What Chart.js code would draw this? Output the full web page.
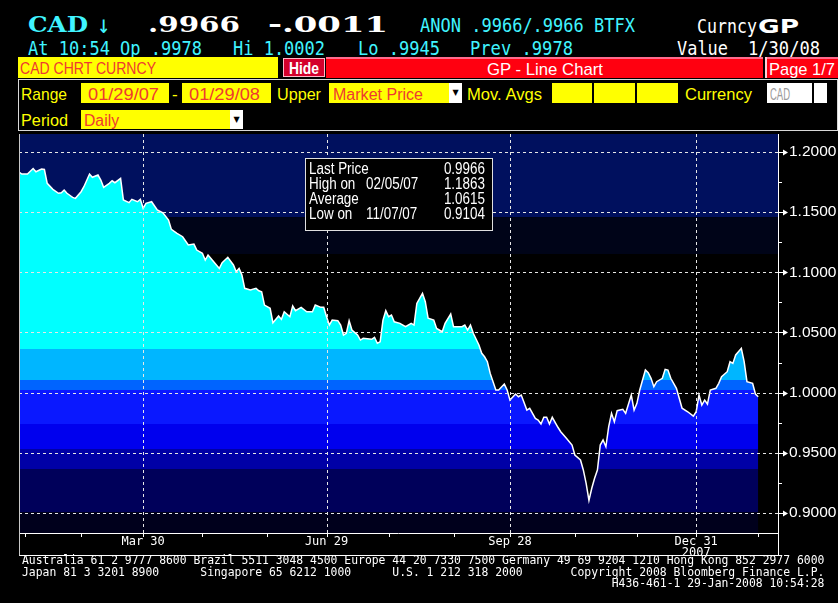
<!DOCTYPE html>
<html lang="en">
<head>
<meta charset="UTF-8">
<title>CAD Curncy GP - Line Chart</title>
<script src="https://cdn.jsdelivr.net/npm/chart.js"></script>
<style>
  html, body { margin: 0; padding: 0; background: #000; }
  body { position: relative; width: 838px; height: 603px; overflow: hidden; }
  .t { position: absolute; white-space: pre; line-height: 1; transform-origin: 0 0; }
  .big { font: bold 22px "DejaVu Serif", serif; }
  .mono { font: 19px "DejaVu Sans Mono", monospace; }
  .sans { font: 17px "Liberation Sans", "DejaVu Sans", sans-serif; }
  .narrow { font: 16px "Liberation Sans", "DejaVu Sans", sans-serif; }
  .cyan { color: #40f4ff; }
  .white { color: #fff; }
  .yellow { color: #ffff00; }
  .red { color: #ee3a30; }
  .box { position: absolute; box-sizing: border-box; }
  .yfield { background: #ffff00; }
  .arrow { background: #fff; color: #000; font: 8px "DejaVu Sans", sans-serif; text-align: center; }
  #chartWrap { position: absolute; left: 0; top: 132px; width: 838px; height: 424px; }
  #chart { display: block; }
  #footer { position: absolute; left: 22px; top: 555px; margin: 0; font: 11.4px "DejaVu Sans Mono", monospace; line-height: 11.5px; color: #fff; }
</style>
</head>
<body>
  <!-- row 1 -->
  <div class="t big cyan" style="left:28px;top:11px" data-w="60">CAD</div>
  <div class="t cyan" style="left:97px;top:10px;font:25px 'DejaVu Sans Mono',monospace" data-w="13">↓</div>
  <div class="t big white" style="left:148px;top:11px" data-w="92">.9966</div>
  <div class="t big white" style="left:268px;top:11px" data-w="120">-.0011</div>
  <div class="t mono cyan" style="left:420px;top:14px" data-w="215">ANON .9966/.9966 BTFX</div>
  <div class="t mono white" style="left:697px;top:15px" data-w="60">Curncy</div>
  <div class="t white" style="left:758px;top:14px;font:bold 20px 'DejaVu Sans',sans-serif" data-w="41">GP</div>

  <!-- row 2 -->
  <div class="t mono cyan" style="left:28px;top:37px" data-w="174">At 10:54 Op .9978</div>
  <div class="t mono cyan" style="left:233px;top:37px" data-w="92">Hi 1.0002</div>
  <div class="t mono cyan" style="left:358px;top:37px" data-w="82">Lo .9945</div>
  <div class="t mono cyan" style="left:470px;top:37px" data-w="103">Prev .9978</div>
  <div class="t mono white" style="left:677px;top:37px" data-w="51">Value</div>
  <div class="t mono white" style="left:748px;top:37px" data-w="72">1/30/08</div>

  <!-- row 3 -->
  <div class="box yfield" style="left:18px;top:57px;width:260px;height:21px"></div>
  <div class="t narrow red" style="left:20px;top:60px" data-w="136">CAD CHRT CURNCY</div>
  <div class="box" style="left:283px;top:58px;width:42px;height:19px;background:#d4002c;border:1px solid #ffb8c8"></div>
  <div class="t white" style="left:289px;top:60px;font:bold 16px 'Liberation Sans',sans-serif" data-w="30">Hide</div>
  <div class="box" style="left:326px;top:57px;width:437px;height:21px;background:linear-gradient(#ff6a8c 0 2px,#ff0010 2px)"></div>
  <div class="t sans white" style="left:487px;top:60px" data-w="116">GP - Line Chart</div>
  <div class="box" style="left:765px;top:57px;width:73px;height:21px;background:linear-gradient(#ff6a8c 0 2px,#ff0010 2px);border-left:2px solid #ffd0d8"></div>
  <div class="t sans white" style="left:769px;top:60px" data-w="66">Page 1/7</div>

  <!-- rows 4 and 5 -->
  <div class="box" style="left:18px;top:79px;width:820px;height:52px;border:1px solid #d8d8d8"></div>
  <div class="t sans yellow" style="left:21px;top:85px" data-w="46">Range</div>
  <div class="box yfield" style="left:81px;top:83px;width:88px;height:20px"></div>
  <div class="t narrow red" style="left:88px;top:86px" data-w="71">01/29/07</div>
  <div class="t sans yellow" style="left:172px;top:85px">-</div>
  <div class="box yfield" style="left:182px;top:83px;width:89px;height:20px"></div>
  <div class="t narrow red" style="left:189px;top:86px" data-w="71">01/29/08</div>
  <div class="t sans yellow" style="left:277px;top:85px" data-w="44">Upper</div>
  <div class="box yfield" style="left:329px;top:83px;width:120px;height:20px"></div>
  <div class="t narrow red" style="left:333px;top:86px" data-w="90">Market Price</div>
  <div class="box arrow" style="left:449px;top:83px;width:13px;height:20px;line-height:20px">▼</div>
  <div class="t sans yellow" style="left:467px;top:85px" data-w="75">Mov. Avgs</div>
  <div class="box yfield" style="left:552px;top:83px;width:40px;height:20px"></div>
  <div class="box yfield" style="left:594px;top:83px;width:41px;height:20px"></div>
  <div class="box yfield" style="left:637px;top:83px;width:41px;height:20px"></div>
  <div class="t sans yellow" style="left:685px;top:85px" data-w="67">Currency</div>
  <div class="box" style="left:767px;top:83px;width:45px;height:20px;background:#fff"></div>
  <div class="t narrow" style="left:770px;top:86px;color:#9a9a9a" data-w="20">CAD</div>
  <div class="box" style="left:814px;top:83px;width:13px;height:20px;background:#fff"></div>

  <div class="t sans yellow" style="left:21px;top:111px" data-w="47">Period</div>
  <div class="box yfield" style="left:81px;top:110px;width:149px;height:19px"></div>
  <div class="t narrow red" style="left:84px;top:112px" data-w="35">Daily</div>
  <div class="box arrow" style="left:230px;top:110px;width:13px;height:19px;line-height:19px">▼</div>

  <div id="chartWrap"><canvas id="chart" width="838" height="424"></canvas></div>

<pre id="footer">Australia 61 2 9777 8600 Brazil 5511 3048 4500 Europe 44 20 7330 7500 Germany 49 69 9204 1210 Hong Kong 852 2977 6000
Japan 81 3 3201 8900      Singapore 65 6212 1000      U.S. 1 212 318 2000       Copyright 2008 Bloomberg Finance L.P.
                                                                                      H436-461-1 29-Jan-2008 10:54:28</pre>

<script>
// CAD per USD, daily, 29 Jan 2007 - 29 Jan 2008 (x = weekday number from 29 Jan 2007)
const dayIndex = [
    0, 1, 3, 5, 6, 8, 9, 10, 12, 14, 15, 16, 17, 19, 20, 22, 23, 25, 26, 28,
    29, 30, 32, 33, 34, 36, 37, 39, 40, 42, 43, 44, 45, 47, 49, 51, 53, 54, 56, 58,
    60, 62, 63, 65, 66, 67, 69, 71, 72, 74, 76, 77, 78, 79, 80, 82, 84, 85, 86, 87,
    89, 90, 92, 93, 94, 96, 97, 98, 100, 102, 104, 105, 107, 108, 109, 110, 111, 113, 114, 115,
    116, 117, 118, 120, 121, 122, 125, 126, 127, 128, 129, 130, 131, 132, 133, 135, 137, 139, 140, 141,
    143, 144, 145, 147, 148, 150, 151, 153, 154, 157, 158, 159, 160, 161, 163, 164, 165, 166, 167, 169,
    170, 172, 173, 174, 176, 177, 178, 180, 181, 183, 184, 185, 186, 187, 188, 189, 191, 192, 194, 196,
    197, 199, 200, 201, 202, 203, 204, 205, 206, 207, 208, 209, 210, 211, 212, 214, 215, 217, 218, 219,
    220, 222, 223, 224, 225, 226, 228, 229, 230, 231, 233, 234, 235, 237, 239, 240, 241, 242, 243, 244,
    245, 247, 248, 249, 251, 252, 253, 254, 256, 257, 258, 260, 261, 262
];
const closeRate = [
    1.1834, 1.1817, 1.1817, 1.1863, 1.1836, 1.1858, 1.1855, 1.1740, 1.1690, 1.1657, 1.1662, 1.1684, 1.1657, 1.1623, 1.1615, 1.1670, 1.1712, 1.1817, 1.1790, 1.1809,
    1.1767, 1.1707, 1.1740, 1.1761, 1.1745, 1.1781, 1.1601, 1.1579, 1.1607, 1.1587, 1.1607, 1.1532, 1.1574, 1.1587, 1.1518, 1.1495, 1.1435, 1.1357, 1.1324, 1.1296,
    1.1227, 1.1235, 1.1185, 1.1158, 1.1102, 1.1144, 1.1088, 1.1033, 1.1080, 1.1125, 1.1061, 1.1005, 1.1033, 1.0978, 1.0867, 1.0853, 1.0867, 1.0847, 1.0839, 1.0728,
    1.0701, 1.0581, 1.0637, 1.0609, 1.0672, 1.0631, 1.0720, 1.0681, 1.0709, 1.0672, 1.0672, 1.0728, 1.0709, 1.0709, 1.0631, 1.0562, 1.0603, 1.0598, 1.0562, 1.0479,
    1.0493, 1.0598, 1.0520, 1.0479, 1.0437, 1.0451, 1.0443, 1.0460, 1.0410, 1.0423, 1.0603, 1.0681, 1.0631, 1.0645, 1.0589, 1.0576, 1.0548, 1.0576, 1.0562, 1.0742,
    1.0825, 1.0756, 1.0618, 1.0603, 1.0534, 1.0506, 1.0576, 1.0653, 1.0548, 1.0548, 1.0562, 1.0520, 1.0562, 1.0493, 1.0396, 1.0327, 1.0298, 1.0257, 1.0160, 1.0022,
    1.0022, 1.0071, 1.0022, 0.9938, 0.9988, 0.9966, 0.9980, 0.9855, 0.9869, 0.9786, 0.9772, 0.9739, 0.9795, 0.9795, 0.9739, 0.9795, 0.9712, 0.9675, 0.9620, 0.9564,
    0.9481, 0.9440, 0.9357, 0.9246, 0.9104, 0.9205, 0.9288, 0.9357, 0.9564, 0.9606, 0.9550, 0.9717, 0.9828, 0.9758, 0.9850, 0.9861, 0.9828, 0.9980, 0.9855, 0.9911,
    1.0022, 1.0188, 1.0165, 1.0119, 1.0049, 1.0091, 1.0119, 1.0194, 1.0188, 1.0119, 1.0036, 0.9953, 0.9870, 0.9841, 0.9805, 0.9841, 0.9980, 0.9897, 0.9938, 0.9905,
    1.0022, 1.0036, 1.0077, 1.0132, 1.0174, 1.0257, 1.0243, 1.0313, 1.0368, 1.0257, 1.0091, 1.0077, 0.9988, 0.9966
];

const yTicks = [0.90, 0.95, 1.00, 1.05, 1.10, 1.15, 1.20];
const yMinorTicks = [0.925, 0.975, 1.025, 1.075, 1.125, 1.175];
const quarterDays = [44, 109, 174, 240];
const quarterLabels = [['Mar 30'], ['Jun 29'], ['Sep 28'], ['Dec 31', '2007']];
const monthEndDays = [2, 22, 44, 65, 88, 109, 131, 154, 174, 197, 219, 240, 262];

const statLabels = ['Last Price', 'High on', 'Average', 'Low on'];
const statDates = ['', '02/05/07', '', '11/07/07'];
const statValues = [0.9966, 1.1863, 1.0615, 0.9104];

// colour bands (by price level) for the area fill and for the empty background
const fillEdges = [1.0362, 1.0105, 1.0022, 0.9739, 0.9529, 0.9366, 0.9010];
const fillColors = ['#00ffff', '#00b6ff', '#0064ff', '#0a18ff', '#0000ee', '#0000a6', '#00005a', '#00001c'];
const bgEdges = [1.1459, 1.1152];
const bgColors = ['#00105e', '#000418', '#000000'];

// fit header texts to their measured widths
document.querySelectorAll('[data-w]').forEach(el => {
    const w = parseFloat(el.dataset.w);
    el.style.transform = 'scaleX(' + (w / el.getBoundingClientRect().width) + ')';
});

function bandFill(context) {
    const chart = context.chart;
    const a = chart.chartArea;
    if (!a) return fillColors[0];
    const y = chart.scales.y;
    const h = a.bottom - a.top;
    const g = chart.ctx.createLinearGradient(0, a.top, 0, a.bottom);
    g.addColorStop(0, fillColors[0]);
    fillEdges.forEach((v, i) => {
        const p = Math.min(1, Math.max(0, (y.getPixelForValue(v) - a.top) / h));
        g.addColorStop(p, fillColors[i]);
        g.addColorStop(p, fillColors[i + 1]);
    });
    g.addColorStop(1, fillColors[fillColors.length - 1]);
    return g;
}

const backdrop = {
    id: 'backdrop',
    beforeDatasetsDraw(chart) {
        const { ctx, chartArea: a, scales: { y } } = chart;
        ctx.save();
        let top = a.top;
        bgColors.forEach((c, i) => {
            const bottom = i < bgEdges.length ? y.getPixelForValue(bgEdges[i]) : a.bottom;
            ctx.fillStyle = c;
            ctx.fillRect(a.left, top, a.right - a.left, bottom - top);
            top = bottom;
        });
        ctx.restore();
    }
};

function line(ctx, x1, y1, x2, y2) {
    ctx.beginPath();
    ctx.moveTo(x1, y1);
    ctx.lineTo(x2, y2);
    ctx.stroke();
}

const overlay = {
    id: 'overlay',
    afterDatasetsDraw(chart) {
        const { ctx, chartArea: a, scales: { x, y } } = chart;
        const axisBottom = a.bottom + 22.5;
        ctx.save();
        ctx.lineWidth = 1;

        // dotted grid over the fill
        ctx.strokeStyle = '#e6e6e6';
        ctx.setLineDash([3, 3]);
        yTicks.forEach(v => {
            const py = Math.round(y.getPixelForValue(v)) + 0.5;
            line(ctx, a.left, py, a.right, py);
        });
        quarterDays.forEach(d => {
            const px = Math.round(x.getPixelForValue(d)) + 0.5;
            line(ctx, px, a.top, px, a.bottom);
        });
        ctx.setLineDash([]);

        // frame and date axis box
        ctx.strokeStyle = '#ffffff';
        line(ctx, a.left, a.bottom + 0.5, a.right, a.bottom + 0.5);
        line(ctx, a.left, axisBottom, a.right, axisBottom);
        line(ctx, a.right + 0.5, a.top, a.right + 0.5, axisBottom);
        ctx.strokeStyle = '#c8c8c8';
        line(ctx, a.left + 0.5, a.top, a.left + 0.5, axisBottom);

        // month ticks
        ctx.strokeStyle = '#ffffff';
        monthEndDays.forEach(d => {
            const px = Math.round(x.getPixelForValue(d)) + 0.5;
            line(ctx, px, a.bottom, px, a.bottom + 4);
        });

        // price ticks on the right
        yMinorTicks.forEach(v => {
            const py = Math.round(y.getPixelForValue(v)) + 0.5;
            line(ctx, a.right, py, a.right + 4, py);
        });
        ctx.fillStyle = '#ffffff';
        yTicks.forEach(v => {
            const py = Math.round(y.getPixelForValue(v)) + 0.5;
            line(ctx, a.right, py, a.right + 7, py);
            ctx.beginPath();
            ctx.moveTo(a.right + 5, py - 3);
            ctx.lineTo(a.right + 10, py);
            ctx.lineTo(a.right + 5, py + 3);
            ctx.closePath();
            ctx.fill();
        });

        // statistics box
        const bx = 305, by = 26;
        ctx.fillStyle = '#000000';
        ctx.fillRect(bx, by, 187, 72);
        ctx.strokeStyle = '#e0e0e0';
        ctx.strokeRect(bx + 0.5, by + 0.5, 187, 72);
        ctx.fillStyle = '#ffffff';
        ctx.font = '16px "Liberation Sans", "DejaVu Sans", sans-serif';
        ctx.textBaseline = 'alphabetic';
        const sx = 0.84;
        statLabels.forEach((lab, i) => {
            const ty = by + 15.5 + i * 15;
            ctx.save();
            ctx.translate(bx + 4, ty);
            ctx.scale(sx, 1);
            ctx.textAlign = 'left';
            ctx.fillText(lab, 0, 0);
            if (statDates[i]) ctx.fillText(statDates[i], 57 / sx, 0);
            ctx.textAlign = 'right';
            ctx.fillText(statValues[i].toFixed(4), 176 / sx, 0);
            ctx.restore();
        });
        ctx.restore();
    }
};

const points = dayIndex.map((d, i) => ({ x: d, y: closeRate[i] }));

new Chart(document.getElementById('chart').getContext('2d'), {
    type: 'line',
    data: {
        datasets: [{
            label: 'CAD Curncy',
            data: points,
            borderColor: '#ffffff',
            borderWidth: 1.5,
            pointRadius: 0,
            tension: 0,
            fill: 'start',
            backgroundColor: bandFill
        }]
    },
    options: {
        responsive: false,
        animation: false,
        devicePixelRatio: 1,
        layout: { padding: { left: 19, top: 2, right: 0, bottom: 0 } },
        plugins: { legend: { display: false }, tooltip: { enabled: false } },
        scales: {
            x: {
                type: 'linear',
                min: 0,
                max: 269,
                afterBuildTicks: s => { s.ticks = quarterDays.map(v => ({ value: v })); },
                afterFit: s => { s.height = 23; s.paddingLeft = 0; s.paddingRight = 0; },
                grid: { display: false, drawTicks: false },
                border: { display: false },
                ticks: {
                    color: '#ffffff',
                    padding: 3,
                    maxRotation: 0,
                    autoSkip: false,
                    font: { family: '"DejaVu Sans Mono", monospace', size: 12, lineHeight: '11px' },
                    callback: (v, i) => quarterLabels[i]
                }
            },
            y: {
                position: 'right',
                min: 0.8833,
                max: 1.215,
                afterBuildTicks: s => { s.ticks = yTicks.map(v => ({ value: v })); },
                afterFit: s => { s.width = 60; s.paddingTop = 0; s.paddingBottom = 0; },
                grid: { display: false, drawTicks: false },
                border: { display: false },
                ticks: {
                    color: '#ffffff',
                    padding: 11,
                    font: { family: '"Liberation Sans", "DejaVu Sans", sans-serif', size: 15.5 },
                    callback: v => v.toFixed(4)
                }
            }
        }
    },
    plugins: [backdrop, overlay]
});
</script>
</body>
</html>
